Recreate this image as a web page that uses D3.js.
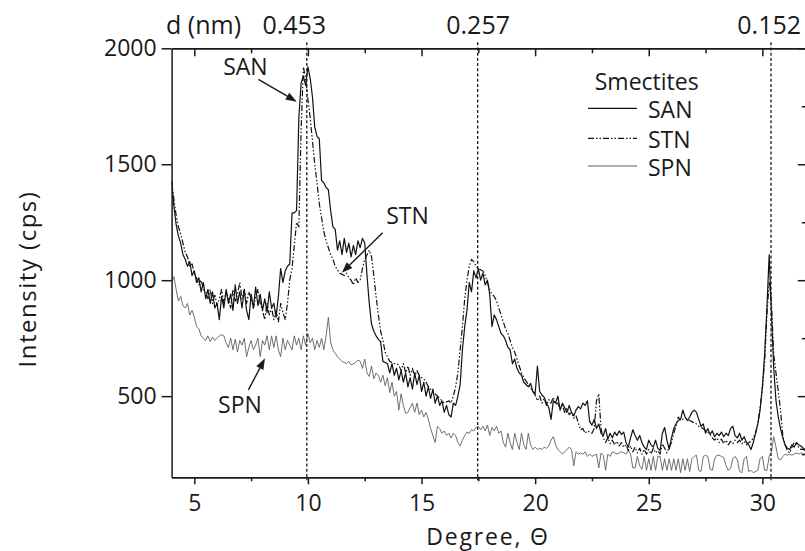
<!DOCTYPE html>
<html><head><meta charset="utf-8">
<script src="https://cdn.jsdelivr.net/npm/d3@7"></script>
<style>body{margin:0;background:#fff}svg{display:block}</style>
</head><body><svg id="c" width="805" height="551"></svg>
<script>
// ---------- DATA ----------
const degreeStart = 4.0, degreeStep = 0.1; // degree grid 4.0 ... 32.0
const sanValues = [
1420,1320,1240,1190,1160,1110,1090,1060,1080,1020,
1040,990,1010,950,990,920,960,900,950,880,
900,830,930,880,960,900,940,870,980,900,
950,880,960,870,830,940,880,970,890,940,
870,920,860,950,880,900,840,930,1050,990,
1040,1060,1070,1290,1290,1300,1700,1850,1880,1840,
1920,1870,1790,1660,1620,1610,1430,1420,1400,1390,
1300,1230,1220,1130,1170,1110,1180,1120,1160,1100,
1150,1110,1170,1140,1180,1160,1020,900,810,780,
760,745,735,650,645,640,600,640,590,620,
570,610,560,600,540,580,530,600,550,590,
520,560,500,540,490,530,470,500,460,480,
430,460,420,410,470,460,500,550,700,800,
870,990,950,1040,1010,1050,1000,1030,980,1000,
940,800,850,830,800,770,760,740,710,700,
640,660,620,600,590,560,550,540,555,520,
510,630,520,505,495,470,450,400,480,470,
500,440,470,450,430,460,430,415,440,455,
445,470,460,480,390,375,400,360,380,340,
330,360,315,340,320,345,330,350,335,345,
300,280,320,355,330,310,330,300,280,270,
310,290,280,310,275,265,340,365,310,270,
320,360,380,395,400,440,410,395,410,430,
440,430,400,370,380,340,360,335,350,325,
340,330,345,325,340,330,360,370,330,320,
340,310,325,300,290,270,300,340,380,440,
540,680,880,1110,860,620,480,410,360,320,
290,275,270,290,280,300,290,285,275,270,
270];
const stnValues = [
1430,1350,1280,1230,1200,1160,1120,1100,1060,1070,
1030,1010,980,1000,960,950,920,960,900,940,
890,920,960,900,950,920,880,960,910,940,
990,920,960,900,950,920,880,930,960,900,
870,830,900,850,880,830,870,820,900,860,
830,900,1000,1050,1150,1250,1230,1650,1920,1870,
1780,1700,1600,1500,1420,1330,1270,1210,1170,1140,
1110,1090,1060,1045,1030,1025,1020,1030,1010,1000,
980,1010,990,1000,1050,1090,1110,1130,1100,1020,
930,850,780,740,690,670,650,645,640,640,
635,610,640,600,630,590,620,585,610,590,
580,575,560,540,530,520,510,500,490,480,
470,475,480,470,500,540,600,700,800,920,
1000,1060,1090,1080,1060,1050,1045,1040,1020,990,
960,940,930,910,880,850,820,790,770,740,
710,690,660,630,600,580,565,550,535,520,
505,480,500,470,490,460,485,470,495,465,
470,445,460,430,450,420,430,405,415,385,
355,360,340,350,345,340,360,480,510,360,
320,300,320,295,310,290,305,285,300,280,
290,265,285,260,280,255,275,250,270,250,
270,250,275,255,265,250,295,275,255,280,
300,340,370,410,395,400,405,400,395,390,
385,380,370,365,360,350,345,335,320,310,
320,300,315,295,310,290,305,295,310,300,
310,295,305,290,300,305,320,340,380,450,
530,650,850,990,900,680,600,520,440,330,
290,265,255,280,300,290,280,270,270,265,
265];
const spnValues = [
990,1015,960,910,930,890,880,900,850,870,
840,800,790,760,750,740,760,735,755,740,
750,760,765,760,730,710,750,700,745,690,
740,720,750,670,710,740,700,720,750,670,
740,720,760,700,760,710,760,700,670,750,
700,740,720,700,760,720,750,700,760,720,
770,730,750,700,740,710,750,700,760,840,
730,700,685,670,660,650,645,640,650,635,
640,645,655,650,620,660,600,585,630,575,
600,590,560,590,545,580,515,560,500,520,
440,510,460,425,430,450,470,430,470,420,
440,410,430,400,360,330,300,370,360,340,
350,330,340,320,340,330,300,285,310,330,
345,340,355,350,365,370,355,370,350,375,
330,365,350,370,340,350,300,280,340,300,
270,340,300,270,340,290,270,340,290,270,
280,270,275,270,280,275,285,310,325,290,
270,260,250,260,270,280,270,200,260,250,
255,250,260,240,250,240,245,250,190,255,
245,180,250,240,260,255,250,255,260,255,
250,265,250,190,190,240,200,185,240,180,
230,180,240,180,240,240,180,230,180,230,
180,230,180,230,170,230,180,230,175,230,
240,245,180,175,240,245,240,185,180,230,
245,245,240,235,200,180,190,230,240,225,
175,170,230,240,175,180,170,175,180,230,
240,180,180,240,260,325,280,230,225,240,
250,245,250,245,250,255,250,255,250,250,
250];
const seriesNames = ["SAN", "STN", "SPN"];
const xMajorTicks = [5, 10, 15, 20, 25, 30];
const xMinorTicks = [7.5, 12.5, 17.5, 22.5, 27.5];
const yMajorTicks = [500, 1000, 1500, 2000];
const yMinorTicks = [250, 750, 1250, 1750];
const dSpacingLabels = ["0.453", "0.257", "0.152"];
const dSpacingDegrees = [9.95, 17.47, 30.38];

// ---------- LAYOUT ----------
const L = 171.6, R = 807.8, T = 48.3, B = 477.3;
const FONT = "'Open Sans', 'Noto Sans', sans-serif";
const INK = "#1a1a1a";

const svg = d3.select("#c");
const x = d3.scaleLinear().domain([4, 32]).range([L, R]);
const y = d3.scaleLinear().domain([150, 2000]).range([B, T]);

const degrees = sanValues.map((_, i) => +(degreeStart + i * degreeStep).toFixed(1));
const series = {
  SAN: sanValues.map((v, i) => [degrees[i], v]),
  STN: stnValues.map((v, i) => [degrees[i], v]),
  SPN: spnValues.map((v, i) => [degrees[i], v])
};
const styles = {
  SAN: {stroke: "#111", width: 1.2, dash: null},
  STN: {stroke: "#111", width: 1.2, dash: "6,2,1.5,2,1.5,2"},
  SPN: {stroke: "#606060", width: 0.9, dash: null}
};

svg.append("defs").append("clipPath").attr("id", "plot")
  .append("rect").attr("x", L).attr("y", T).attr("width", R - L).attr("height", B - T);

const line = d3.line().x(d => x(d[0])).y(d => y(d[1]));

const gLines = svg.append("g").attr("clip-path", "url(#plot)");
["SPN", "STN", "SAN"].forEach(k => {
  gLines.append("path").datum(series[k]).attr("d", line)
    .attr("fill", "none").attr("stroke", styles[k].stroke)
    .attr("stroke-width", styles[k].width)
    .attr("stroke-dasharray", styles[k].dash)
    .attr("stroke-linejoin", "round");
});

// d-spacing reference lines
svg.append("g").selectAll("line").data(dSpacingDegrees).join("line")
  .attr("x1", d => x(d)).attr("x2", d => x(d))
  .attr("y1", T - 6).attr("y2", B + 3)
  .attr("stroke", INK).attr("stroke-width", 1.3).attr("stroke-dasharray", "3,2.2");

function styleAxis(g) {
  g.select(".domain").attr("stroke", INK).attr("stroke-width", 1.5);
  g.selectAll(".tick line").attr("stroke", INK).attr("stroke-width", 1.5);
  g.selectAll(".tick text").attr("fill", INK).style("font-family", FONT).style("font-size", "23px");
}
svg.append("g").attr("transform", `translate(0,${B})`)
  .call(d3.axisBottom(x).tickValues(xMajorTicks).tickSizeInner(7).tickSizeOuter(0).tickPadding(10).tickFormat(d3.format("d")))
  .call(styleAxis);
svg.append("g").attr("transform", `translate(0,${B})`)
  .call(d3.axisBottom(x).tickValues(xMinorTicks).tickSizeInner(4).tickSizeOuter(0).tickFormat(""))
  .call(styleAxis);
svg.append("g").attr("transform", `translate(0,${T})`)
  .call(d3.axisTop(x).tickValues(xMajorTicks).tickSizeInner(-8).tickSizeOuter(0).tickFormat(""))
  .call(styleAxis);
svg.append("g").attr("transform", `translate(0,${T})`)
  .call(d3.axisTop(x).tickValues(xMinorTicks).tickSizeInner(-5).tickSizeOuter(0).tickFormat(""))
  .call(styleAxis);
svg.append("g").attr("transform", `translate(${L},0)`)
  .call(d3.axisLeft(y).tickValues(yMajorTicks).tickSizeInner(10).tickSizeOuter(0).tickPadding(5).tickFormat(d3.format("d")))
  .call(styleAxis);
svg.append("g").attr("transform", `translate(${R},0)`)
  .call(d3.axisRight(y).tickValues(yMajorTicks).tickSizeInner(-10).tickSizeOuter(0).tickFormat(""))
  .call(styleAxis);
svg.append("g").attr("transform", `translate(${R},0)`)
  .call(d3.axisRight(y).tickValues(yMinorTicks).tickSizeInner(-6).tickSizeOuter(0).tickFormat(""))
  .call(styleAxis);

// axis titles
svg.append("text").attr("x", 488).attr("y", 545).attr("text-anchor", "middle")
  .style("font-family", FONT).style("font-size", "23px").style("letter-spacing", "1.8px")
  .attr("fill", INK).text("Degree, Θ");
svg.append("text").attr("transform", "translate(36,279) rotate(-90)").attr("text-anchor", "middle")
  .style("font-family", FONT).style("font-size", "24px").style("letter-spacing", "1.5px")
  .attr("fill", INK).text("Intensity (cps)");

// top d-spacing labels
svg.append("text").attr("x", 166).attr("y", 34).style("font-family", FONT).style("font-size", "25px")
  .attr("fill", INK).text("d (nm)");
const dLabelX = [x(9.4), x(17.49), x(30.3)];
svg.append("g").selectAll("text").data(dSpacingLabels).join("text")
  .attr("x", (d, i) => dLabelX[i]).attr("y", 34).attr("text-anchor", "middle")
  .style("font-family", FONT).style("font-size", "25px").attr("fill", INK).text(d => d);

// annotations with arrows
const notes = [
  {name: "SAN", tx: 7.25, ty: 1885, from: [7.82, 1866], to: [9.51, 1770]},
  {name: "STN", tx: 14.38, ty: 1242, from: [13.29, 1205], to: [11.49, 1032]},
  {name: "SPN", tx: 7.01, ty: 427, from: [7.38, 527], to: [8.11, 663]}
];
const gN = svg.append("g");
notes.forEach(n => {
  gN.append("text").attr("x", x(n.tx)).attr("y", y(n.ty)).attr("text-anchor", "middle")
    .style("font-family", FONT).style("font-size", "23px").attr("fill", INK).text(n.name);
  const x1 = x(n.from[0]), y1 = y(n.from[1]), x2 = x(n.to[0]), y2 = y(n.to[1]);
  const a = Math.atan2(y2 - y1, x2 - x1), len = 11, hw = 4;
  const bx = x2 - len * Math.cos(a), by = y2 - len * Math.sin(a);
  gN.append("line").attr("x1", x1).attr("y1", y1).attr("x2", bx).attr("y2", by)
    .attr("stroke", INK).attr("stroke-width", 1.4);
  gN.append("path").attr("d", `M${x2},${y2}L${bx + hw * Math.sin(a)},${by - hw * Math.cos(a)}L${bx - hw * Math.sin(a)},${by + hw * Math.cos(a)}Z`)
    .attr("fill", INK);
});

// legend
const lg = svg.append("g");
lg.append("text").attr("x", 646.7).attr("y", 90).attr("text-anchor", "middle")
  .style("font-family", FONT).style("font-size", "23px").attr("fill", INK).text("Smectites");
seriesNames.forEach((k, i) => {
  const ly = [108.3, 138.3, 166][i];
  lg.append("line").attr("x1", 588).attr("x2", 637).attr("y1", ly).attr("y2", ly)
    .attr("stroke", styles[k].stroke).attr("stroke-width", k === "SPN" ? 1.1 : 1.3)
    .attr("stroke-dasharray", styles[k].dash);
  lg.append("text").attr("x", 648).attr("y", ly + 10).style("font-family", FONT).style("font-size", "23px")
    .attr("fill", INK).text(k);
});
</script>
</body></html>
